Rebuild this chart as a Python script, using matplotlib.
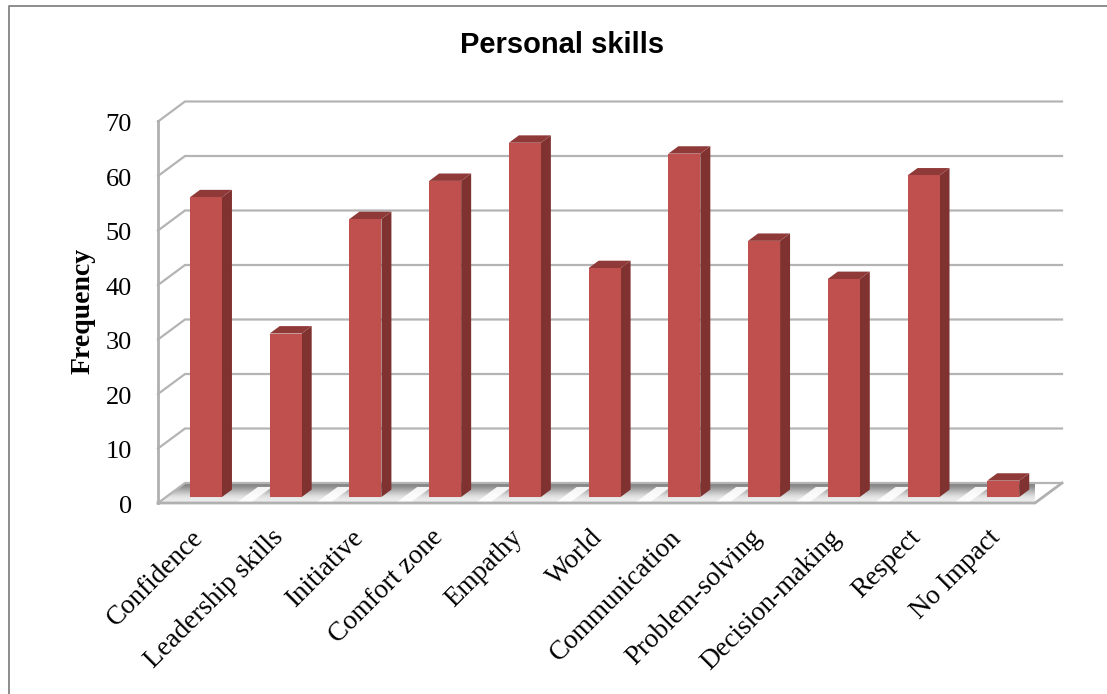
import numpy as np
import matplotlib
matplotlib.use("Agg")
import matplotlib.pyplot as plt
from matplotlib.patches import Polygon

skills = ["Confidence", "Leadership skills", "Initiative", "Comfort zone", "Empathy", "World",
          "Communication", "Problem-solving", "Decision-making", "Respect", "No Impact"]
frequency = [55, 30, 51, 58, 65, 42, 63, 47, 40, 59, 3]
y_ticks = [0, 10, 20, 30, 40, 50, 60, 70]

W, H = 1107, 694
DEPTH_X = 27 / 79.7   # oblique projection, in data units per full depth
DEPTH_Y = 20 / 5.45
BAR_W = 32 / 79.7

FRONT = "#c0504d"
SIDE = "#7f3230"
TOP = "#8f3a38"
GRID = "#b4b4b4"
AXIS = "#b0b0b0"

fig = plt.figure(figsize=(W / 100, H / 100), dpi=100)
# front plane of the box: x 158..1035 px, y 503..121.5 px
ax = fig.add_axes([158 / W, 1 - 503 / H, 877 / W, 381.5 / H])
ax.set_xlim(-0.5, 10.5)
ax.set_ylim(0, 70)
ax.axis("off")


def proj(x, y, d):
    return x + d * DEPTH_X, y + d * DEPTH_Y


def solid(points, color, z, **kw):
    ax.add_patch(Polygon(points, closed=True, facecolor=color, edgecolor="none",
                         zorder=z, clip_on=False, **kw))


# floor with shading, back edge dark fading to the front
floor = Polygon([proj(-0.5, 0, 0), proj(10.5, 0, 0), proj(10.5, 0, 1), proj(-0.5, 0, 1)],
                closed=True, facecolor="none", edgecolor="none", clip_on=False)
ax.add_patch(floor)
shade = np.array([[0.50], [0.58], [0.68], [0.78], [0.87], [0.92], [0.92]])
grad = ax.imshow(shade, cmap="gray", vmin=0, vmax=1, aspect="auto", interpolation="bicubic",
                 extent=(-0.5, 10.9, 0, DEPTH_Y), zorder=1)
grad.set_clip_path(floor)
ax.set_xlim(-0.5, 10.5)
ax.set_ylim(0, 70)
# white diagonal highlights between the bars
for i in range(len(skills)):
    a = i + 0.5
    solid([proj(a - 0.02, 0, 0.0), proj(a + 0.16, 0, 0.0), proj(a + 0.16, 0, 0.8), proj(a - 0.02, 0, 0.8)],
          "white", 1.5, alpha=0.9)

# walls and gridlines
for t in y_ticks:
    x0, y0 = proj(-0.5, t, 0)
    x1, y1 = proj(-0.5, t, 1)
    x2, y2 = proj(10.5, t, 1)
    ax.plot([x0, x1, x2], [y0, y1, y2], color=GRID, lw=1.6, zorder=2, clip_on=False,
            solid_joinstyle="miter")
# front axis lines
ax.plot([-0.5, -0.5], [0, 70], color=AXIS, lw=2, zorder=3, clip_on=False)
ex, ey = proj(10.5, 0, 1)
ax.plot([-0.5, 10.5, ex], [0, 0, ey], color=AXIS, lw=2, zorder=3, clip_on=False)

# bars, sitting 0.3 of the way into the box
D0, D1 = 0.30, 0.67
for i, v in enumerate(frequency):
    bx, by = proj(i - BAR_W / 2, 0, D0)
    ax.bar(bx, v, width=BAR_W, bottom=by, align="edge", color=FRONT, zorder=5, clip_on=False)
    right = i + BAR_W / 2
    left = i - BAR_W / 2
    solid([proj(right, 0, D0), proj(right, 0, D1), proj(right, v, D1), proj(right, v, D0)], SIDE, 4)
    solid([proj(left, v, D0), proj(right, v, D0), proj(right, v, D1), proj(left, v, D1)], TOP, 4)

# text
serif = "Liberation Serif"
for t in y_ticks:
    ax.annotate(str(t), (-0.5, t), xytext=(-26, -4), textcoords="offset pixels", ha="right", va="center",
                family=serif, fontsize=19, color="black", annotation_clip=False)
for i, name in enumerate(skills):
    ax.annotate(name, (i, 0), xytext=(-7, -22), textcoords="offset pixels", ha="right", va="top",
                rotation=45, rotation_mode="anchor", family=serif, fontsize=19.5, color="black",
                annotation_clip=False)
fig.text(83 / W, 1 - 311 / H, "Frequency", rotation=90, ha="center", va="center",
         family=serif, fontweight="bold", fontsize=20)
fig.text(562 / W, 1 - 45 / H, "Personal skills", ha="center", va="center",
         family="Liberation Sans", fontweight="bold", fontsize=21)

# outer frame of the chart (only top and left edges show)
fig.add_artist(plt.Line2D([8.5 / W, 8.5 / W, 1], [0, 1 - 6 / H, 1 - 6 / H],
                          color="#8c8c8c", lw=1.4))

fig.savefig("out.png", dpi=100)
